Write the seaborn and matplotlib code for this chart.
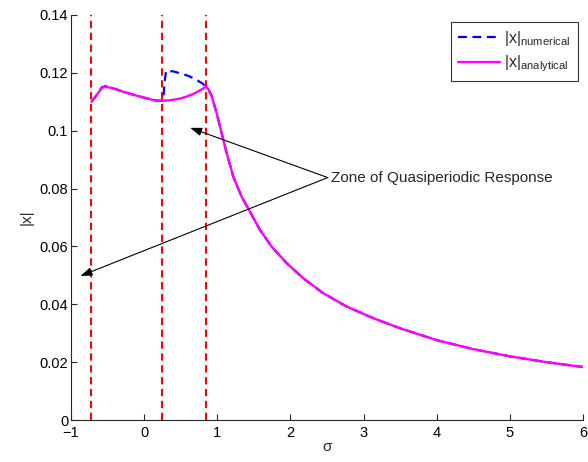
import numpy as np
import pandas as pd
import matplotlib
matplotlib.use("Agg")
import matplotlib.pyplot as plt
import seaborn as sns

# ---- data ----
sigma_analytical = [-0.72, -0.65, -0.58, -0.53, -0.45, -0.38, -0.29, -0.17, -0.056, 0.05, 0.12, 0.19, 0.26,
                    0.35, 0.49, 0.58, 0.67, 0.76, 0.846, 0.88, 0.923, 0.992, 1.060, 1.129, 1.219, 1.333,
                    1.447, 1.584, 1.744, 1.949, 2.176, 2.45, 2.77, 3.133, 3.50, 4.0, 4.5, 5.0, 5.5, 6.0]
x_analytical = [0.1100, 0.1123, 0.1148, 0.1152, 0.1148, 0.1143, 0.1135, 0.1126, 0.1118, 0.1111, 0.1106, 0.1104, 0.1104,
                0.1105, 0.1111, 0.1118, 0.1127, 0.1139, 0.1152, 0.1143, 0.1120, 0.1060, 0.0991, 0.0922, 0.0841, 0.0772,
                0.0720, 0.0657, 0.0599, 0.0542, 0.0490, 0.0438, 0.0392, 0.0352, 0.0317, 0.0276, 0.0245, 0.0220, 0.0200, 0.0183]

sigma_numerical = [-0.72, -0.65, -0.58, -0.53, -0.45, -0.38, -0.29, -0.17, -0.056, 0.05, 0.12, 0.19, 0.26,
                   0.28, 0.30, 0.40, 0.50, 0.60, 0.70, 0.80, 0.846, 0.88, 0.923, 0.992, 1.060, 1.129, 1.219, 1.333,
                   1.447, 1.584, 1.744, 1.949, 2.176, 2.45, 2.77, 3.133, 3.50, 4.0, 4.5, 5.0, 5.5, 6.0]
x_numerical = [0.1100, 0.1123, 0.1150, 0.1154, 0.1149, 0.1143, 0.1135, 0.1126, 0.1118, 0.1111, 0.1106, 0.1104, 0.1104,
               0.1170, 0.1207, 0.1205, 0.1198, 0.1190, 0.1178, 0.1163, 0.1152, 0.1143, 0.1120, 0.1060, 0.0991, 0.0922, 0.0841, 0.0772,
               0.0720, 0.0657, 0.0599, 0.0542, 0.0490, 0.0438, 0.0392, 0.0352, 0.0317, 0.0276, 0.0245, 0.0220, 0.0200, 0.0183]

zone_bounds = [-0.72, 0.25, 0.84]
x_ticks = [-1, 0, 1, 2, 3, 4, 5, 6]
x_ticklabels = ["\u22121", "0", "1", "2", "3", "4", "5", "6"]
y_ticks = [0, 0.02, 0.04, 0.06, 0.08, 0.1, 0.12, 0.14]
y_ticklabels = ["0", "0.02", "0.04", "0.06", "0.08", "0.1", "0.12", "0.14"]
annotation_text = "Zone of Quasiperiodic Response"
annotation_from = (2.51, 0.0838)
annotation_targets = [(0.63, 0.101), (-0.87, 0.0498)]

# ---- styling ----
sns.set_style("ticks")
plt.rcParams["font.family"] = ["Liberation Sans", "DejaVu Sans"]
plt.rcParams["mathtext.default"] = "regular"
plt.rcParams["xtick.direction"] = "in"
plt.rcParams["ytick.direction"] = "in"

fig = plt.figure(figsize=(5.88, 4.62), dpi=100)
ax = fig.add_axes([71/588, 42/462, 512/588, 405/462])

df_num = pd.DataFrame({"sigma": sigma_numerical, "x": x_numerical})
df_an = pd.DataFrame({"sigma": sigma_analytical, "x": x_analytical})

sns.lineplot(data=df_num, x="sigma", y="x", ax=ax, color="#0000ff", lw=1.6,
             estimator=None, label=r"$|x|_{numerical}$")
ax.lines[-1].set_dashes([4.0, 2.5])
sns.lineplot(data=df_an, x="sigma", y="x", ax=ax, color="#ff00ff", lw=1.7,
             estimator=None, label=r"$|x|_{analytical}$")

for b in zone_bounds:
    ax.axvline(b, color="#ff0000", lw=1.5, dashes=(3.5, 2.2), zorder=1)

ax.set_xlim(-1, 6)
ax.set_ylim(0, 0.14)
ax.set_xticks(x_ticks)
ax.set_xticklabels(x_ticklabels)
ax.set_yticks(y_ticks)
ax.set_yticklabels(y_ticklabels)
ax.tick_params(labelsize=10.5, length=4, width=0.8, colors="#262626", labelcolor="black", pad=2)
ax.tick_params(axis="x", pad=4.5)
ax.set_xlabel("\u03c3", fontsize=11, labelpad=0)
ax.set_ylabel("|x|", fontsize=11, labelpad=4)
sns.despine(ax=ax)
for s in ["left", "bottom"]:
    ax.spines[s].set_color("#262626")
    ax.spines[s].set_linewidth(0.8)

ax.text(annotation_from[0] + 0.04, annotation_from[1], annotation_text,
        fontsize=11, va="center", ha="left")
for tgt in annotation_targets:
    ax.annotate("", xy=tgt, xytext=annotation_from,
                arrowprops=dict(arrowstyle="-|>,head_length=0.7,head_width=0.25", color="black", lw=0.8,
                                shrinkA=0, shrinkB=0))

leg = ax.legend(loc="upper right", bbox_to_anchor=(0.990, 0.983), borderaxespad=0, fontsize=11.5,
                frameon=True, fancybox=False, edgecolor="black", handlelength=2.6, borderpad=0.45,
                labelspacing=0.35, handletextpad=0.3)
leg.get_frame().set_linewidth(0.8)

fig.savefig("out.png", dpi=100)
